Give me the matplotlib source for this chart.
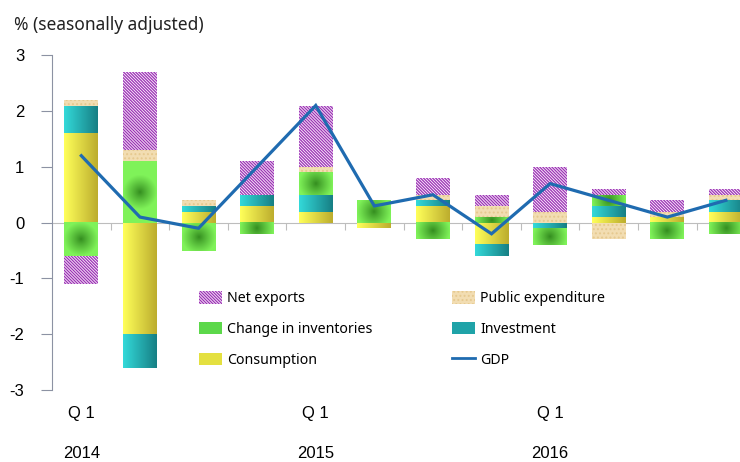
import numpy as np
import matplotlib
matplotlib.use('Agg')
import matplotlib.pyplot as plt
from matplotlib.patches import Patch
from matplotlib.lines import Line2D

plt.rcParams['font.family'] = ['Noto Sans', 'DejaVu Sans']
plt.rcParams['hatch.linewidth'] = 0.9

# data (contribution to growth, % qoq sa)
quarters = ['Q 1', '', '', '', 'Q 1', '', '', '', 'Q 1', '', '', '']
years = ['2014', '', '', '', '2015', '', '', '', '2016', '', '', '']
consumption = [1.6, -2.0, 0.2, 0.3, 0.2, -0.1, 0.3, -0.4, 0.0, 0.1, 0.1, 0.2]
investment = [0.5, -0.6, 0.1, 0.2, 0.3, 0.0, 0.1, -0.2, -0.1, 0.2, 0.0, 0.2]
inventories = [-0.6, 1.1, -0.5, -0.2, 0.4, 0.4, -0.3, 0.1, -0.3, 0.2, -0.3, -0.2]
public_exp = [0.1, 0.2, 0.1, 0.0, 0.1, 0.0, 0.1, 0.2, 0.2, -0.3, 0.1, 0.1]
net_exports = [-0.5, 1.4, 0.0, 0.6, 1.1, 0.0, 0.3, 0.2, 0.8, 0.1, 0.2, 0.1]
gdp = [1.2, 0.1, -0.1, 1.0, 2.1, 0.3, 0.5, -0.2, 0.7, 0.4, 0.1, 0.4]

fig = plt.figure(figsize=(7.4, 4.62), dpi=100)
ax = fig.add_axes([0.0703, 0.1558, 0.9297, 0.7245])

x = np.arange(len(gdp))
bar_w = 0.58
px_per_x = 58.6
px_per_y = 55.9
ne_hatch = '\\' * 11


def hgrad(c_left, c_right, n=40):
    c_left = np.array(c_left)
    c_right = np.array(c_right)
    t = np.linspace(0, 1, n)[None, :, None]
    return c_left + (c_right - c_left) * t


def radial(h_px, w_px, dark, light, r=17):
    ny = max(int(round(h_px)), 2)
    nx = max(int(round(w_px)), 2)
    yy, xx = np.mgrid[0:ny, 0:nx]
    d = np.hypot(xx - (nx - 1) / 2, yy - (ny - 1) / 2)
    t = np.clip(d / r, 0, 1)[:, :, None] ** 0.9
    dark = np.array(dark)
    light = np.array(light)
    return dark + (light - dark) * t


cons_img = hgrad((1.0, 1.0, 0.35), (0.74, 0.68, 0.18))
inv_img = hgrad((0.2, 0.85, 0.85), (0.09, 0.5, 0.52))
green_dark = (0.2, 0.55, 0.12)
green_light = (0.5, 0.95, 0.35)

series = [
    ('Consumption', consumption),
    ('Investment', investment),
    ('Change in inventories', inventories),
    ('Public expenditure', public_exp),
    ('Net exports', net_exports),
]

pos_bottom = np.zeros(len(x))
neg_bottom = np.zeros(len(x))
for name, vals in series:
    vals = np.array(vals)
    bottom = np.where(vals >= 0, pos_bottom, neg_bottom)
    if name == 'Net exports':
        bars = ax.bar(x, vals, bar_w, bottom=bottom, facecolor='#FBEFFB',
                      edgecolor='#9B33B5', hatch=ne_hatch, linewidth=0, zorder=2)
    elif name == 'Public expenditure':
        bars = ax.bar(x, vals, bar_w, bottom=bottom, facecolor='#F2DDB2',
                      edgecolor='#E6C98F', hatch='....', linewidth=0, zorder=2)
    else:
        bars = ax.bar(x, vals, bar_w, bottom=bottom, facecolor='none',
                      linewidth=0, zorder=2)
        for b in bars:
            h = b.get_height()
            if h == 0:
                continue
            x0 = b.get_x()
            y0 = b.get_y()
            ext = [x0, x0 + b.get_width(), y0, y0 + h]
            if name == 'Consumption':
                img = cons_img
            elif name == 'Investment':
                img = inv_img
            else:
                img = radial(abs(h) * px_per_y, b.get_width() * px_per_x,
                             green_dark, green_light)
            ax.imshow(img, extent=ext, aspect='auto', interpolation='bilinear', zorder=2)
    pos_bottom += np.where(vals >= 0, vals, 0)
    neg_bottom += np.where(vals < 0, vals, 0)

ax.plot(x, gdp, color='#1F6BB0', linewidth=2.3, zorder=4, solid_joinstyle='miter')

ax.set_xlim(-0.5, 11.24)
ax.set_ylim(-3, 3)

# axes styling
for s in ['top', 'right']:
    ax.spines[s].set_visible(False)
ax.spines['left'].set_color('#8C92A3')
ax.spines['bottom'].set_position(('data', 0))
ax.spines['bottom'].set_color('#BDBDBD')
ax.spines['bottom'].set_zorder(1)

ax.set_yticks(range(-3, 4))
ax.set_yticklabels([str(v) for v in range(-3, 4)], family='Liberation Sans', fontsize=12)
ax.tick_params(axis='y', direction='out', length=8, color='#8C92A3', pad=12)
ax.set_xticks(x[:-1] + 0.5)
ax.set_xticklabels([])
ax.tick_params(axis='x', direction='out', length=5, color='#BDBDBD')

tr = ax.get_xaxis_transform()
for i in range(len(x)):
    if quarters[i]:
        ax.text(x[i], -0.07, quarters[i], transform=tr, ha='center', va='center',
                family='Liberation Sans', fontsize=12)
    if years[i]:
        ax.text(x[i], -0.19, years[i], transform=tr, ha='center', va='center',
                family='Liberation Sans', fontsize=12)

fig.text(14 / 740, 1 - 25 / 462, '% (seasonally adjusted)', ha='left', va='center',
         fontsize=12.5, color='#222222')

handles = [
    Patch(facecolor='#FBEFFB', edgecolor='#9B33B5', hatch=ne_hatch, linewidth=0),
    Patch(facecolor='#5CD84A'),
    Patch(facecolor='#E4E040'),
    Patch(facecolor='#F2DDB2', edgecolor='#E6C98F', hatch='....', linewidth=0),
    Patch(facecolor='#1FA3A8'),
    Line2D([0], [0], color='#1F6BB0', linewidth=2),
]
labels = ['Net exports', 'Change in inventories', 'Consumption',
          'Public expenditure', 'Investment', 'GDP']
ax.legend(handles, labels, ncol=2, loc='upper left', frameon=False,
          bbox_to_anchor=(199 / 740, 1 - 291 / 462), bbox_transform=fig.transFigure,
          fontsize=10.2, handlelength=1.6, handleheight=1.0, handletextpad=0.4,
          labelspacing=1.1, columnspacing=5.6, borderpad=0, borderaxespad=0)

fig.savefig('out.png', dpi=100)
